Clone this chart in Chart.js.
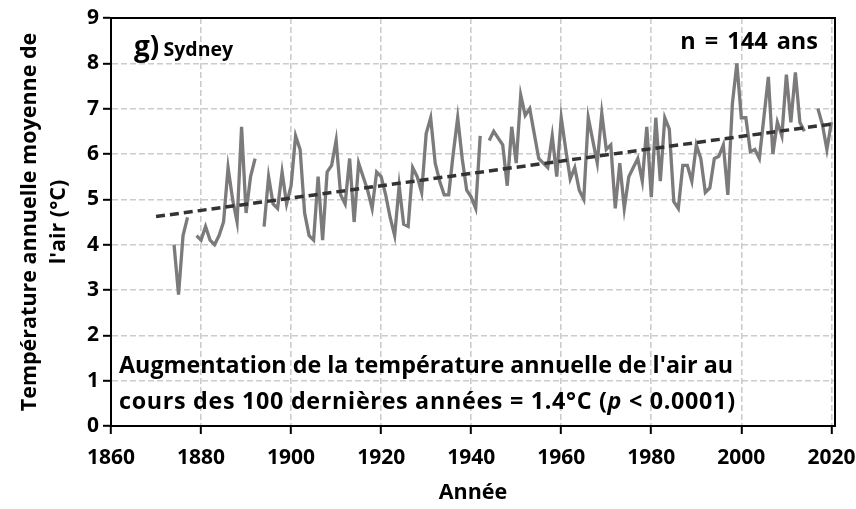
<!DOCTYPE html>
<html><head><meta charset="utf-8">
<script src="https://cdn.jsdelivr.net/npm/chart.js@4.4.1/dist/chart.umd.min.js"></script>
<style>
html,body{margin:0;padding:0;background:#fff;}
#wrap{position:relative;width:856px;height:509px;overflow:hidden;}
canvas{position:absolute;left:0;top:0;}
.t{position:absolute;font-family:'Open Sans',sans-serif;font-weight:700;color:#000;white-space:nowrap;}
</style></head><body>
<div id="wrap"><canvas id="c" width="856" height="509"></canvas>
<div class="t" style="left:134px;top:27px;line-height:36px"><span style="font-size:28px">g)</span> <span style="font-size:19.5px">Sydney</span></div>
<div class="t" style="right:38px;top:24px;font-size:23.5px;line-height:32px;word-spacing:3px">n = 144 ans</div>
<div class="t" style="left:119px;top:346px;font-size:23.3px;line-height:36px">Augmentation de la température annuelle de l'air au</div>
<div class="t" style="left:119px;top:382px;font-size:23.3px;line-height:36px;letter-spacing:0.7px">cours des 100 dernières années = 1.4°C (<i>p</i> &lt; 0.0001)</div>
</div>
<script>
const years = [
  1874,1875,1876,1877,1878,1879,
  1880,1881,1882,1883,1884,1885,1886,1887,1888,1889,
  1890,1891,1892,1893,1894,1895,1896,1897,1898,1899,
  1900,1901,1902,1903,1904,1905,1906,1907,1908,1909,
  1910,1911,1912,1913,1914,1915,1916,1917,1918,1919,
  1920,1921,1922,1923,1924,1925,1926,1927,1928,1929,
  1930,1931,1932,1933,1934,1935,1936,1937,1938,1939,
  1940,1941,1942,1943,1944,1945,1946,1947,1948,1949,
  1950,1951,1952,1953,1954,1955,1956,1957,1958,1959,
  1960,1961,1962,1963,1964,1965,1966,1967,1968,1969,
  1970,1971,1972,1973,1974,1975,1976,1977,1978,1979,
  1980,1981,1982,1983,1984,1985,1986,1987,1988,1989,
  1990,1991,1992,1993,1994,1995,1996,1997,1998,1999,
  2000,2001,2002,2003,2004,2005,2006,2007,2008,2009,
  2010,2011,2012,2013,2014,2015,2016,2017,2018,2019,2020
];
const temps = [
  4.0, 2.9, 4.2, 4.6, null, 4.2,
  4.1, 4.4, 4.1, 4.0, 4.2, 4.5, 5.7, 5.0, 4.5, 6.6,
  4.7, 5.5, 5.9, null, 4.4, 5.5, 4.9, 4.8, 5.6, 4.9,
  5.3, 6.4, 6.1, 4.7, 4.2, 4.1, 5.5, 4.1, 5.6, 5.75,
  6.3, 5.1, 4.9, 5.9, 4.5, 5.8, 5.5, 5.2, 4.8, 5.6,
  5.5, 5.1, 4.6, 4.2, 5.3, 4.45, 4.4, 5.7, 5.5, 5.15,
  6.45, 6.8, 5.8, 5.4, 5.1, 5.1, 6.0, 6.8, 5.9, 5.2,
  5.05, 4.8, 6.4, null, 6.3, 6.5, 6.35, 6.2, 5.3, 6.6,
  5.8, 7.3, 6.85, 7.0, 6.45, 5.9, 5.8, 5.7, 6.4, 5.5,
  6.8, 6.1, 5.45, 5.7, 5.2, 5.0, 6.8, 6.3, 5.8, 6.9,
  6.1, 6.2, 4.8, 5.8, 4.8, 5.5, 5.7, 5.9, 5.4, 6.6,
  5.05, 6.8, 5.4, 6.8, 6.55, 4.95, 4.8, 5.75, 5.75, 5.4,
  6.2, 5.9, 5.15, 5.25, 5.9, 5.95, 6.2, 5.1, 7.1, 8.0,
  6.8, 6.8, 6.05, 6.1, 5.9, 6.8, 7.7, 6.0, 6.7, 6.4,
  7.75, 6.7, 7.8, 6.7, 6.5, null, null, 7.0, 6.65, 6.1, 6.7
];
const trendYears = [1870, 2020];
const trendTemps = [4.62, 6.66];
const xTickValues = [1860,1880,1900,1920,1940,1960,1980,2000,2020];
const yTickValues = [0,1,2,3,4,5,6,7,8,9];
const yTitle = ['Température annuelle moyenne de', "l'air (°C)"];
const xTitle = 'Année';

const FONT = "'Open Sans', 'Noto Sans', sans-serif";

const boxPlugin = {
  id: 'box',
  afterDatasetsDraw(chart) {
    const {ctx, chartArea: a} = chart;
    ctx.save();
    ctx.strokeStyle = '#000';
    ctx.lineWidth = 2;
    ctx.strokeRect(a.left, a.top, a.right - a.left, a.bottom - a.top);
    ctx.restore();
  }
};

new Chart(document.getElementById('c'), {
  type: 'line',
  data: {
    datasets: [
      {
        data: years.map((y, i) => ({x: y, y: temps[i]})),
        borderColor: '#7c7a7a',
        borderWidth: 3.3,
        pointRadius: 0,
        spanGaps: false,
        tension: 0,
        order: 2
      },
      {
        data: trendYears.map((y, i) => ({x: y, y: trendTemps[i]})),
        borderColor: '#333333',
        borderWidth: 3.5,
        borderDash: [9, 5],
        pointRadius: 0,
        tension: 0,
        order: 1
      }
    ]
  },
  options: {
    responsive: false,
    animation: false,
    devicePixelRatio: 1,
    layout: {padding: {top: 18, right: 21, left: 0, bottom: 0}},
    plugins: {legend: {display: false}, tooltip: {enabled: false}},
    scales: {
      x: {
        type: 'linear',
        min: 1860,
        max: 2020.8,
        afterBuildTicks: s => { s.ticks = xTickValues.map(v => ({value: v})); },
        afterFit: s => { s.height = 83; s.paddingLeft = 0; s.paddingRight = 0; },
        ticks: {
          color: '#000', padding: 11, maxRotation: 0, autoSkip: false,
          font: {family: FONT, size: 21, weight: 'bold'},
          callback: v => String(v)
        },
        grid: {color: '#cccccc', lineWidth: 1.6, tickLength: 8, tickColor: '#000', tickWidth: 2},
        border: {display: true, color: '#000', width: 2, dash: [6, 3]},
        title: {display: true, text: xTitle, color: '#000',
          font: {family: FONT, size: 21.5, weight: 'bold', lineHeight: 1.3},
          padding: {top: 0, bottom: 2}}
      },
      y: {
        min: 0,
        max: 9,
        afterBuildTicks: s => { s.ticks = yTickValues.map(v => ({value: v})); },
        afterFit: s => { s.width = 111; s.paddingTop = 0; s.paddingBottom = 0; },
        ticks: {
          color: '#000', padding: 4,
          font: {family: FONT, size: 21, weight: 'bold'}
        },
        grid: {color: '#cccccc', lineWidth: 1.6, tickLength: 8, tickColor: '#000', tickWidth: 2},
        border: {display: true, color: '#000', width: 2, dash: [6, 3]},
        title: {display: true, text: yTitle, color: '#000',
          font: {family: FONT, size: 21.5, weight: 'bold', lineHeight: 1.35},
          padding: {top: 15, bottom: 0}}
      }
    }
  },
  plugins: [boxPlugin]
});
</script>
</body></html>
